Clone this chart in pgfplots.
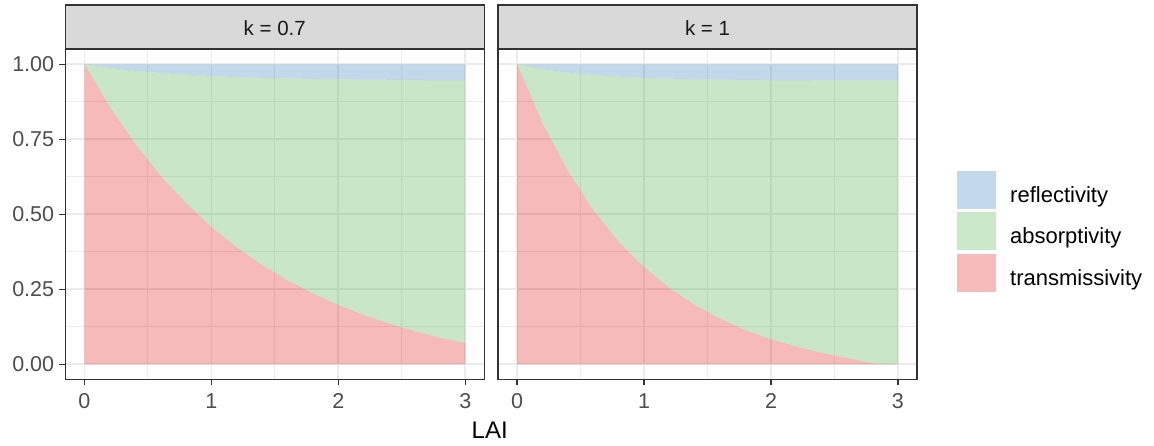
\documentclass[border=0pt]{standalone}
\usepackage{pgfplots}
\pgfplotsset{compat=1.18}
\usepackage{pgfplotstable}
\usepackage{fontspec}
\setmainfont{Liberation Sans}
\definecolor{refl}{HTML}{377EB8}
\definecolor{absp}{HTML}{4DAF4A}
\definecolor{trns}{HTML}{E41A1C}
\definecolor{gridc}{HTML}{EBEBEB}
\definecolor{grey20}{HTML}{333333}
\definecolor{grey30}{HTML}{4D4D4D}
\definecolor{grey10}{HTML}{1A1A1A}
\definecolor{stripc}{HTML}{D9D9D9}

\pgfplotstableread{
L trans absorp refl
0.0 1.000 0.0000 0.0000
0.2 0.857 0.1306 0.0124
0.4 0.734 0.2441 0.0219
0.6 0.628 0.3428 0.0292
0.8 0.536 0.4291 0.0349
1.0 0.457 0.5037 0.0393
1.2 0.389 0.5683 0.0427
1.4 0.330 0.6247 0.0453
1.6 0.279 0.6737 0.0473
1.8 0.235 0.7162 0.0488
2.0 0.197 0.7530 0.0500
2.2 0.164 0.7851 0.0509
2.4 0.135 0.8134 0.0516
2.6 0.110 0.8378 0.0522
2.8 0.088 0.8594 0.0526
3.0 0.070 0.8771 0.0529
}\ksev

\pgfplotstableread{
L trans absorp refl
0.0 1.000 0.0000 0.0000
0.2 0.802 0.1817 0.0163
0.4 0.643 0.3293 0.0277
0.6 0.513 0.4513 0.0357
0.8 0.408 0.5508 0.0412
1.0 0.323 0.6319 0.0451
1.2 0.253 0.6992 0.0478
1.4 0.197 0.7533 0.0497
1.6 0.151 0.7980 0.0510
1.8 0.113 0.8351 0.0519
2.0 0.083 0.8645 0.0525
2.2 0.058 0.8890 0.0530
2.4 0.037 0.9097 0.0533
2.6 0.021 0.9255 0.0535
2.8 0.003 0.9434 0.0536
3.0 0.000 0.9462 0.0538
}\kone

\pgfplotsset{facet/.style={
  scale only axis, width=419pt, height=330pt,
  xmin=-0.15, xmax=3.15, ymin=-0.05, ymax=1.05,
  xtick={0,1,2,3}, minor xtick={0.5,1.5,2.5},
  ytick={0,0.25,0.5,0.75,1}, minor ytick={0.125,0.375,0.625,0.875},
  xticklabels={0,1,2,3},
  grid=both,
  major grid style={gridc, line width=1.6pt},
  minor grid style={gridc, line width=0.8pt},
  axis line style={grey20, line width=1.4pt},
  tick align=outside, tick pos=left,
  major tick length=6pt, minor tick length=0pt,
  tick style={grey20, line width=1.4pt},
  /pgf/number format/assume math mode=true,
  tick label style={font=\fontsize{21.5}{21.5}\selectfont, text=grey30},
  xticklabel style={anchor=north, inner sep=0pt, yshift=-8pt},
  yticklabel style={anchor=east, inner sep=0pt, xshift=-5pt},
  stack plots=y,
  clip=true,
}}

\begin{document}
\begin{tikzpicture}
\path[use as bounding box] (0,0) rectangle (1154pt,446pt);

\begin{axis}[facet, at={(65.3pt,66.7pt)}, anchor=south west,
  yticklabels={0.00,0.25,0.50,0.75,1.00}]
\addplot[draw=none, fill=trns, fill opacity=0.3] table[x=L,y=trans]{\ksev} \closedcycle;
\addplot[draw=none, fill=absp, fill opacity=0.3] table[x=L,y=absorp]{\ksev} \closedcycle;
\addplot[draw=none, fill=refl, fill opacity=0.3] table[x=L,y=refl]{\ksev} \closedcycle;
\end{axis}

\begin{axis}[facet, at={(498pt,66.7pt)}, anchor=south west,
  yticklabels={}, ytick style={draw=none}]
\addplot[draw=none, fill=trns, fill opacity=0.3] table[x=L,y=trans]{\kone} \closedcycle;
\addplot[draw=none, fill=absp, fill opacity=0.3] table[x=L,y=absorp]{\kone} \closedcycle;
\addplot[draw=none, fill=refl, fill opacity=0.3] table[x=L,y=refl]{\kone} \closedcycle;
\end{axis}

% strips
\draw[fill=stripc, draw=grey20, line width=1.4pt] (65.3pt,397.5pt) rectangle (484.3pt,441pt);
\draw[fill=stripc, draw=grey20, line width=1.4pt] (498pt,397.5pt) rectangle (917pt,441pt);
\node[font=\fontsize{20.5}{20.5}\selectfont, text=grey10] at (274.8pt,418pt) {k = 0.7};
\node[font=\fontsize{20.5}{20.5}\selectfont, text=grey10] at (707.5pt,418pt) {k = 1};

% axis title
\node[font=\fontsize{24}{24}\selectfont] at (489.7pt,15.3pt) {LAI};

% legend
\fill[refl!30] (956.5pt,236.5pt) rectangle (995.5pt,275pt);
\fill[absp!30] (956.5pt,195.5pt) rectangle (995.5pt,233.5pt);
\fill[trns!30] (956.5pt,154pt) rectangle (995.5pt,192pt);
\node[anchor=base west, inner sep=0pt, font=\fontsize{22}{22}\selectfont] at (1010pt,243.5pt) {reflectivity};
\node[anchor=base west, inner sep=0pt, font=\fontsize{22}{22}\selectfont] at (1010pt,202pt) {absorptivity};
\node[anchor=base west, inner sep=0pt, font=\fontsize{22}{22}\selectfont] at (1010pt,160.5pt) {transmissivity};
\end{tikzpicture}
\end{document}
